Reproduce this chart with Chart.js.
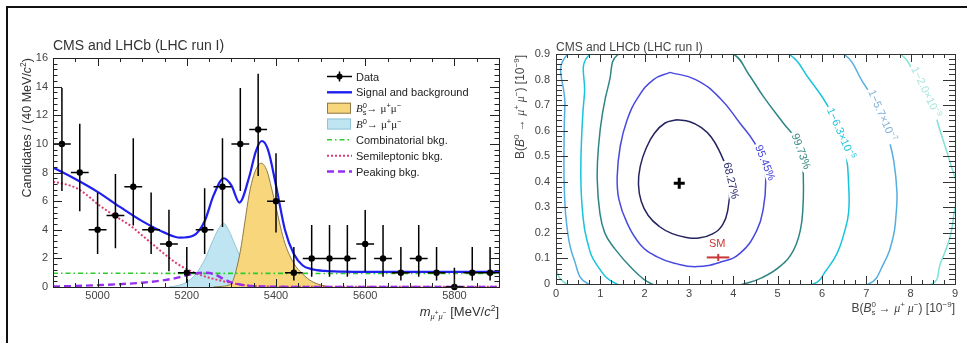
<!DOCTYPE html>
<html><head><meta charset="utf-8">
<script src="https://cdn.jsdelivr.net/npm/chart.js@4.4.1/dist/chart.umd.min.js"></script>
<style>
html,body{margin:0;padding:0;background:#fff;}
body{width:967px;height:343px;overflow:hidden;position:relative;}
#frame{position:absolute;left:6px;top:6px;width:990px;height:370px;border-left:2px solid #111;border-top:2px solid #111;}
canvas{position:absolute;top:0;}
#c1{left:0;} #c2{left:505px;}
</style></head><body>
<div id="frame"></div>
<canvas id="c1" width="510" height="343"></canvas>
<canvas id="c2" width="462" height="343"></canvas>
<script>
// ================= DATA (left panel) =================
const binCenters = [4920,4960,5000,5040,5080,5120,5160,5200,5240,5280,5320,5360,5400,5440,5480,5520,5560,5600,5640,5680,5720,5760,5800,5840,5880];
const candidates = [10,8,4,5,7,4,3,1,4,7,10,11,6,1,2,2,2,3,2,1,2,1,0,1,1];
const candLow  = [6.7,5.3,2.3,2.7,4.3,2.3,1.1,0.3,2.3,4.2,6.7,7.75,3.8,0.45,0.72,0.72,0.72,1.07,0.72,0.45,0.72,0.45,0,0.45,0.45];
const candHigh = [13.9,11.4,6.6,7.9,10.4,6.6,5.4,2.8,6.9,10.4,13.9,14.9,9.35,2.8,4.33,4.33,4.33,5.38,4.33,2.8,4.33,2.8,1.35,2.8,2.8];
const binHalfWidth = 20;

const totalMass = [4900,4950,5000,5050,5100,5150,5185,5215,5240,5260,5283,5300,5318,5340,5355,5368,5382,5400,5420,5440,5460,5480,5510,5550,5600,5700,5800,5900];
const totalFit  = [8.35,7.55,6.65,5.6,4.6,3.8,3.45,3.6,4.6,6.4,7.6,7.1,5.9,7.7,9.5,10.2,9.6,7.1,4.0,2.3,1.5,1.25,1.12,1.07,1.05,1.05,1.05,1.05];

const bsMass = [5260,5280,5300,5310,5320,5330,5340,5350,5360,5367,5380,5390,5400,5410,5420,5440,5460,5480,5500,5520];
const bsFit  = [0,0.05,0.25,1.1,2.5,4.5,6.5,7.8,8.5,8.65,8.1,6.9,5.6,4.2,3.05,1.65,0.9,0.4,0.15,0];

const bdMass = [5160,5180,5200,5220,5240,5255,5270,5282,5295,5310,5325,5340,5360,5380,5400,5420];
const bdFit  = [0,0.1,0.35,0.9,1.9,3.0,4.0,4.45,3.9,2.8,1.8,1.0,0.45,0.15,0.05,0];

const combMass = [4900,5900];
const combFit  = [0.96,0.94];

const semiMass = [4900,4925,4950,4975,5000,5025,5050,5075,5100,5125,5150,5175,5200,5225,5250,5275,5300,5325,5350,5400,5500,5900];
const semiFit  = [7.35,7.2,6.95,6.45,5.8,5.25,4.75,4.25,3.6,2.95,2.3,1.7,1.25,0.9,0.65,0.45,0.28,0.15,0.07,0.02,0.01,0.01];

const peakMass = [4900,4950,5000,5050,5100,5150,5175,5200,5225,5245,5265,5280,5300,5325,5350,5400,5450,5900];
const peakFit  = [0.03,0.07,0.13,0.2,0.3,0.48,0.62,0.82,0.97,1.0,0.85,0.6,0.32,0.14,0.06,0.02,0,0];

const massTicks = [5000,5200,5400,5600,5800];
const massTickLabels = ['5000','5200','5400','5600','5800'];
const countTicks = [0,2,4,6,8,10,12,14,16];
const countTickLabels = ['0','2','4','6','8','10','12','14','16'];

// ================= DATA (right panel) =================
const bsBRTicks = [0,1,2,3,4,5,6,7,8,9];
const bsBRTickLabels = ['0','1','2','3','4','5','6','7','8','9'];
const bdBRTicks = [0,0.1,0.2,0.3,0.4,0.5,0.6,0.7,0.8,0.9];
const bdBRTickLabels = ['0','0.1','0.2','0.3','0.4','0.5','0.6','0.7','0.8','0.9'];

const bestFitBs = [2.78];
const bestFitBd = [0.394];
const smBs = [3.66];
const smBd = [0.104];
const smBsLow = [3.40];
const smBsHigh = [3.91];

const contour68 = [[2.72,0.643],[3.02,0.635],[3.28,0.612],[3.5,0.575],[3.7,0.515],[3.85,0.45],[3.92,0.38],[3.88,0.295],[3.76,0.232],[3.52,0.195],[3.22,0.18],[2.95,0.182],[2.62,0.197],[2.33,0.225],[2.08,0.268],[1.92,0.325],[1.86,0.39],[1.9,0.46],[2.03,0.53],[2.22,0.59],[2.46,0.63],[2.72,0.643]];
const contour95 = [[2.57,0.828],[3.15,0.8],[3.7,0.727],[4.15,0.629],[4.45,0.56],[4.68,0.48],[4.73,0.4],[4.68,0.3],[4.53,0.21],[4.15,0.12],[3.7,0.085],[3.18,0.068],[2.7,0.08],[2.27,0.107],[1.9,0.155],[1.6,0.24],[1.42,0.33],[1.38,0.42],[1.45,0.54],[1.6,0.64],[1.85,0.73],[2.2,0.8],[2.57,0.828]];
const contour997 = [[2.7,1.0],[1.41,0.9],[1.2,0.79],[1.05,0.67],[0.96,0.54],[0.93,0.41],[0.99,0.277],[1.1,0.2],[1.29,0.146],[1.72,0.06],[2.16,0.0],[3.2,-0.05],[4.23,0.0],[4.65,0.025],[5.06,0.07],[5.35,0.13],[5.51,0.21],[5.57,0.3],[5.58,0.4],[5.55,0.49],[5.44,0.56],[5.13,0.629],[4.68,0.733],[4.35,0.82],[4.0,0.9],[2.7,1.0]];
const contour4s = [[3.0,1.12],[0.77,0.9],[0.64,0.74],[0.58,0.58],[0.56,0.42],[0.6,0.28],[0.7,0.17],[0.92,0.075],[1.37,0.0],[3.5,-0.12],[5.81,0.0],[6.1,0.055],[6.34,0.12],[6.5,0.2],[6.6,0.28],[6.6,0.39],[6.55,0.5],[6.42,0.59],[6.12,0.7],[5.72,0.8],[5.25,0.9],[3.0,1.12]];
const contour5s = [[3.4,1.25],[0.27,0.9],[0.2,0.7],[0.18,0.52],[0.19,0.36],[0.25,0.22],[0.4,0.1],[0.73,0.0],[3.9,-0.2],[7.05,0.0],[7.39,0.08],[7.6,0.18],[7.67,0.27],[7.69,0.36],[7.62,0.48],[7.5,0.57],[7.3,0.68],[6.92,0.79],[6.49,0.9],[3.4,1.25]];
const contour6s = [[4.0,1.35],[-0.35,0.9],[-0.45,0.55],[-0.3,0.28],[-0.05,0.1],[0.24,0.0],[4.4,-0.3],[8.48,0.0],[8.67,0.08],[8.89,0.185],[8.98,0.28],[9.05,0.37],[8.9,0.47],[8.7,0.58],[8.45,0.71],[8.14,0.8],[7.77,0.9],[4.0,1.35]];

// ================= helpers =================
const SANS = "'Liberation Sans', Arial, Helvetica, sans-serif";
const SERIF = "'Liberation Serif', 'Times New Roman', serif";
function pts(xs, ys) { return xs.map((x, i) => ({x: x, y: ys[i]})); }
function pairPts(arr) { return arr.map(p => ({x: p[0], y: p[1]})); }
function P(t, s, o) { return Object.assign({t: t, s: s}, o || {}); }
function drawRich(ctx, parts, x, y, align) {
  let cx = 0, maxX = 0, prevStart = 0;
  const lay = [];
  for (const p of parts) {
    const f = (p.it ? 'italic ' : '') + p.s + 'px ' + (p.serif ? SERIF : SANS);
    ctx.font = f;
    const w = ctx.measureText(p.t).width;
    if (p.back) cx = prevStart;
    lay.push({p: p, x: cx, f: f});
    prevStart = cx;
    cx += w;
    if (cx > maxX) maxX = cx;
  }
  const x0 = align === 'right' ? x - maxX : (align === 'center' ? x - maxX / 2 : x);
  ctx.textAlign = 'left';
  ctx.textBaseline = 'alphabetic';
  for (const l of lay) { ctx.font = l.f; ctx.fillText(l.p.t, x0 + l.x, y + (l.p.dy || 0)); }
  return maxX;
}
function frameTicks(ctx, a, xs, ys, c) {
  ctx.save();
  ctx.strokeStyle = c.color; ctx.lineWidth = 1;
  ctx.beginPath();
  for (let i = 0; i <= c.xN; i++) {
    const v = c.x0 + i * c.xStep;
    const L = (i % c.xEvery === c.xOff) ? c.xMaj : c.xMin;
    const px = Math.round(xs.getPixelForValue(v)) + 0.5;
    ctx.moveTo(px, a.bottom); ctx.lineTo(px, a.bottom - L);
    ctx.moveTo(px, a.top); ctx.lineTo(px, a.top + L);
  }
  for (let i = 0; i <= c.yN; i++) {
    const v = c.y0 + i * c.yStep;
    const L = (i % c.yEvery === 0) ? c.yMaj : c.yMin;
    const py = Math.round(ys.getPixelForValue(v)) + 0.5;
    ctx.moveTo(a.left, py); ctx.lineTo(a.left + L, py);
    ctx.moveTo(a.right, py); ctx.lineTo(a.right - L, py);
  }
  ctx.stroke();
  ctx.strokeRect(Math.round(a.left) + 0.5, Math.round(a.top) + 0.5, Math.round(a.right - a.left), Math.round(a.bottom - a.top));
  ctx.restore();
}

const COL = {
  total: '#1f1fef', bsFill: '#f7d67c', bsLine: '#8c7a4a', bdFill: '#bfe5f2', bdLine: '#93c4d6',
  comb: '#2ccc2c', semi: '#dc3d6e', peak: '#9630ee'
};

// ================= LEFT CHART =================
const leftPlugin = {
  id: 'leftDecor',
  afterDatasetsDraw(chart) {
    const ctx = chart.ctx, x = chart.scales.x, y = chart.scales.y;
    ctx.save();
    ctx.strokeStyle = '#000'; ctx.lineWidth = 1.5;
    ctx.beginPath();
    binCenters.forEach((m, i) => {
      const px = x.getPixelForValue(m);
      const py = y.getPixelForValue(candidates[i]);
      ctx.moveTo(x.getPixelForValue(m - binHalfWidth), py);
      ctx.lineTo(x.getPixelForValue(m + binHalfWidth), py);
      ctx.moveTo(px, y.getPixelForValue(candLow[i]));
      ctx.lineTo(px, y.getPixelForValue(candHigh[i]));
    });
    ctx.stroke();
    ctx.restore();
  },
  afterDraw(chart) {
    const ctx = chart.ctx, a = chart.chartArea, x = chart.scales.x, y = chart.scales.y;
    frameTicks(ctx, a, x, y, {color: '#222', x0: 4900, xStep: 50, xN: 20, xEvery: 4, xOff: 2, xMaj: 8, xMin: 4,
      y0: 0, yStep: 0.4, yN: 40, yEvery: 5, yMaj: 9, yMin: 4.5});
    ctx.save();
    ctx.fillStyle = '#333';
    // title
    drawRich(ctx, [P('CMS and LHCb (LHC run I)', 14)], 53, 50, 'left');
    // x title
    drawRich(ctx, [P('m', 13, {it: true}), P('μ', 8.5, {dy: 3, it: true, serif: true}), P('+', 6.5, {dy: -1}),
      P('μ', 8.5, {dy: 3, it: true, serif: true}), P('−', 6.5, {dy: -1}), P(' [MeV/', 13), P('c', 13, {it: true}),
      P('2', 8.5, {dy: -5}), P(']', 13)], 499, 316, 'right');
    // y title
    ctx.save();
    ctx.translate(31, 58); ctx.rotate(-Math.PI / 2);
    drawRich(ctx, [P('Candidates / (40 MeV/', 12.5), P('c', 12.5, {it: true}), P('2', 8.5, {dy: -5}), P(')', 12.5)], 0, 0, 'right');
    ctx.restore();
    // legend
    const ds = chart.data.datasets;
    const rowY = [76.5, 92.3, 108.2, 124.0, 139.8, 155.7, 171.5];
    const lx0 = 327, lx1 = 352, tx = 356;
    // Data
    ctx.strokeStyle = '#000'; ctx.lineWidth = 1.5;
    ctx.beginPath(); ctx.moveTo(lx0, rowY[0]); ctx.lineTo(lx1, rowY[0]);
    ctx.moveTo(339.5, rowY[0] - 5); ctx.lineTo(339.5, rowY[0] + 5); ctx.stroke();
    ctx.fillStyle = '#000'; ctx.beginPath(); ctx.arc(339.5, rowY[0], 3, 0, Math.PI * 2); ctx.fill();
    // Signal and background
    ctx.strokeStyle = COL.total; ctx.lineWidth = 2.4;
    ctx.beginPath(); ctx.moveTo(lx0, rowY[1]); ctx.lineTo(lx1, rowY[1]); ctx.stroke();
    // Bs box
    ctx.fillStyle = COL.bsFill; ctx.fillRect(lx0, rowY[2] - 5.5, 24, 11);
    ctx.strokeStyle = COL.bsLine; ctx.lineWidth = 1; ctx.strokeRect(lx0 + 0.5, rowY[2] - 5, 23, 10);
    // B0 box
    ctx.fillStyle = COL.bdFill; ctx.fillRect(lx0, rowY[3] - 5.5, 24, 11);
    ctx.strokeStyle = COL.bdLine; ctx.strokeRect(lx0 + 0.5, rowY[3] - 5, 23, 10);
    // comb
    ctx.lineWidth = 1.6; ctx.strokeStyle = COL.comb; ctx.setLineDash([5, 3, 1.5, 3]);
    ctx.beginPath(); ctx.moveTo(lx0, rowY[4]); ctx.lineTo(lx1, rowY[4]); ctx.stroke();
    ctx.lineWidth = 2; ctx.strokeStyle = COL.semi; ctx.setLineDash([2, 2]);
    ctx.beginPath(); ctx.moveTo(lx0, rowY[5]); ctx.lineTo(lx1, rowY[5]); ctx.stroke();
    ctx.lineWidth = 2.4; ctx.strokeStyle = COL.peak; ctx.setLineDash([7, 4]);
    ctx.beginPath(); ctx.moveTo(lx0, rowY[6]); ctx.lineTo(lx1, rowY[6]); ctx.stroke();
    ctx.setLineDash([]);
    // legend texts
    ctx.fillStyle = '#222';
    drawRich(ctx, [P(ds[0].label, 11)], tx, rowY[0] + 4, 'left');
    drawRich(ctx, [P(ds[1].label, 11)], tx, rowY[1] + 4, 'left');
    drawRich(ctx, [P('B', 11, {it: true, serif: true}), P('0', 7.5, {dy: -4}), P('s', 7.5, {dy: 3, back: true}), P('→ ', 11),
      P('μ', 11, {serif: true}), P('+', 7.5, {dy: -4}), P('μ', 11, {serif: true}), P('−', 7.5, {dy: -4})], tx, rowY[2] + 4, 'left');
    drawRich(ctx, [P('B', 11, {it: true, serif: true}), P('0', 7.5, {dy: -4}), P('→ ', 11),
      P('μ', 11, {serif: true}), P('+', 7.5, {dy: -4}), P('μ', 11, {serif: true}), P('−', 7.5, {dy: -4})], tx, rowY[3] + 4, 'left');
    drawRich(ctx, [P(ds[4].label, 11)], tx, rowY[4] + 4, 'left');
    drawRich(ctx, [P(ds[3].label, 11)], tx, rowY[5] + 4, 'left');
    drawRich(ctx, [P(ds[2].label, 11)], tx, rowY[6] + 4, 'left');
    ctx.restore();
  }
};

new Chart(document.getElementById('c1'), {
  type: 'line',
  data: {datasets: [
    {label: 'Data', data: pts(binCenters, candidates), showLine: false, pointRadius: 3.2, pointBackgroundColor: '#000', pointBorderColor: '#000', pointBorderWidth: 0, order: 0, clip: false},
    {label: 'Signal and background', data: pts(totalMass, totalFit), borderColor: COL.total, borderWidth: 2.2, pointRadius: 0, cubicInterpolationMode: 'monotone', order: 1},
    {label: 'Peaking bkg.', data: pts(peakMass, peakFit), borderColor: COL.peak, borderWidth: 2.4, borderDash: [7, 4], pointRadius: 0, cubicInterpolationMode: 'monotone', order: 2},
    {label: 'Semileptonic bkg.', data: pts(semiMass, semiFit), borderColor: COL.semi, borderWidth: 2, borderDash: [2, 2], pointRadius: 0, cubicInterpolationMode: 'monotone', order: 3},
    {label: 'Combinatorial bkg.', data: pts(combMass, combFit), borderColor: COL.comb, borderWidth: 1.6, borderDash: [5, 3, 1.5, 3], pointRadius: 0, order: 4},
    {label: 'Bs', data: pts(bsMass, bsFit), borderColor: COL.bsLine, borderWidth: 1, backgroundColor: COL.bsFill, fill: 'origin', pointRadius: 0, cubicInterpolationMode: 'monotone', order: 5},
    {label: 'B0', data: pts(bdMass, bdFit), borderColor: COL.bdLine, borderWidth: 1, backgroundColor: COL.bdFill, fill: 'origin', pointRadius: 0, cubicInterpolationMode: 'monotone', order: 6}
  ]},
  options: {
    responsive: false, animation: false, devicePixelRatio: 1, events: [],
    layout: {padding: {left: 0, right: 11, top: 58, bottom: 26}},
    plugins: {legend: {display: false}, tooltip: {enabled: false}, title: {display: false}},
    elements: {point: {radius: 0}, line: {capBezierPoints: false}},
    scales: {
      x: {type: 'linear', min: 4900, max: 5900,
        grid: {display: false, drawTicks: false, tickLength: 0}, border: {display: false},
        afterBuildTicks: s => { s.ticks = massTicks.map(v => ({value: v})); },
        afterFit: s => { s.height = 30; },
        ticks: {color: '#444', padding: 2, maxRotation: 0, autoSkip: false, font: {family: SANS, size: 11}, callback: (v, i) => massTickLabels[i]}},
      y: {type: 'linear', min: 0, max: 16,
        grid: {display: false, drawTicks: false, tickLength: 0}, border: {display: false},
        afterBuildTicks: s => { s.ticks = countTicks.map(v => ({value: v})); },
        afterFit: s => { s.width = 53; },
        ticks: {color: '#444', padding: 5, autoSkip: false, font: {family: SANS, size: 11}, callback: (v, i) => countTickLabels[i]}}
    }
  },
  plugins: [leftPlugin]
});

// ================= RIGHT CHART =================
const contourLabels = [
  {parts: [P('68.27%', 11)], x: 3.96, y: 0.405, rot: 77, color: '#2a2a6e'},
  {parts: [P('95.45%', 11)], x: 4.73, y: 0.475, rot: 68, color: '#4848dc'},
  {parts: [P('99.73%', 11)], x: 5.54, y: 0.52, rot: 70, color: '#3a8888'},
  {parts: [P('1−6.3×10', 11), P('−5', 7.5, {dy: -4})], x: 6.44, y: 0.59, rot: 66, color: '#20c4dc'},
  {parts: [P('1−5.7×10', 11), P('−7', 7.5, {dy: -4})], x: 7.37, y: 0.66, rot: 66, color: '#7fb0d8'},
  {parts: [P('1−2.0×10', 11), P('−9', 7.5, {dy: -4})], x: 8.36, y: 0.752, rot: 64, color: '#a8e6dc'}
];

const rightPlugin = {
  id: 'rightDecor',
  afterDatasetsDraw(chart) {
    const ctx = chart.ctx, x = chart.scales.x, y = chart.scales.y;
    ctx.save();
    for (const lb of contourLabels) {
      const px = x.getPixelForValue(lb.x), py = y.getPixelForValue(lb.y);
      ctx.save();
      ctx.translate(px, py); ctx.rotate(lb.rot * Math.PI / 180);
      ctx.fillStyle = 'rgba(0,0,0,0)';
      const w = drawRich(ctx, lb.parts, -10000, 0, 'left');
      ctx.fillStyle = '#fff';
      ctx.fillRect(-w / 2 - 2, -7, w + 4, 13);
      ctx.fillStyle = lb.color;
      drawRich(ctx, lb.parts, 0, 4, 'center');
      ctx.restore();
    }
    // SM label
    ctx.fillStyle = '#c83737';
    drawRich(ctx, [P('SM', 11)], x.getPixelForValue(smBs[0]) - 1, y.getPixelForValue(smBd[0]) - 10, 'center');
    ctx.restore();
  },
  afterDraw(chart) {
    const ctx = chart.ctx, a = chart.chartArea, x = chart.scales.x, y = chart.scales.y;
    frameTicks(ctx, a, x, y, {color: '#333', x0: 0, xStep: 0.25, xN: 36, xEvery: 4, xOff: 0, xMaj: 8, xMin: 4,
      y0: 0, yStep: 0.02, yN: 45, yEvery: 5, yMaj: 12, yMin: 6});
    ctx.save();
    ctx.fillStyle = '#444';
    drawRich(ctx, [P('CMS and LHCb (LHC run I)', 12)], 51, 51, 'left');
    drawRich(ctx, [P('B(', 12), P('B', 12, {it: true}), P('0', 8, {dy: -5}), P('s', 8, {dy: 3, back: true}), P(' → ', 12),
      P('μ', 12, {it: true, serif: true}), P('+', 8, {dy: -5}), P(' μ', 12, {it: true, serif: true}), P('−', 8, {dy: -5}),
      P(') [10', 12), P('−9', 8, {dy: -5}), P(']', 12)], 450, 312, 'right');
    ctx.save();
    ctx.translate(19, 55); ctx.rotate(-Math.PI / 2);
    drawRich(ctx, [P('B(', 12), P('B', 12, {it: true}), P('0', 8, {dy: -5}), P(' → ', 12),
      P('μ', 12, {it: true, serif: true}), P('+', 8, {dy: -5}), P(' μ', 12, {it: true, serif: true}), P('−', 8, {dy: -5}),
      P(') [10', 12), P('−9', 8, {dy: -5}), P(']', 12)], 0, 0, 'right');
    ctx.restore();
    ctx.restore();
  }
};

function contourDS(label, arr, color, order) {
  return {label: label, data: pairPts(arr), borderColor: color, borderWidth: 1.5, pointRadius: 0, tension: 0.45, fill: false, order: order};
}

new Chart(document.getElementById('c2'), {
  type: 'line',
  data: {datasets: [
    {label: 'Best fit', data: pts(bestFitBs, bestFitBd), showLine: false, pointStyle: 'cross', pointRadius: 5.5, pointBorderWidth: 3, pointBorderColor: '#000', order: 0},
    {label: 'SM point', data: pts(smBs, smBd), showLine: false, pointStyle: 'line', rotation: 90, pointRadius: 3.5, pointBorderWidth: 2, pointBorderColor: '#c83737', order: 1},
    {label: 'SM range', data: [{x: smBsLow[0], y: smBd[0]}, {x: smBsHigh[0], y: smBd[0]}], borderColor: '#c83737', borderWidth: 2, pointRadius: 0, order: 1},
    contourDS('68.27%', contour68, '#25235f', 2),
    contourDS('95.45%', contour95, '#4848e0', 3),
    contourDS('99.73%', contour997, '#2f8585', 4),
    contourDS('1-6.3e-5', contour4s, '#18c4dc', 5),
    contourDS('1-5.7e-7', contour5s, '#55aee0', 6),
    contourDS('1-2.0e-9', contour6s, '#7fe2d4', 7)
  ]},
  options: {
    responsive: false, animation: false, devicePixelRatio: 1, events: [],
    layout: {padding: {left: 0, right: 12, top: 54, bottom: 29}},
    plugins: {legend: {display: false}, tooltip: {enabled: false}, title: {display: false}},
    elements: {point: {radius: 0}, line: {capBezierPoints: false}},
    scales: {
      x: {type: 'linear', min: 0, max: 9,
        grid: {display: false, drawTicks: false, tickLength: 0}, border: {display: false},
        afterBuildTicks: s => { s.ticks = bsBRTicks.map(v => ({value: v})); },
        afterFit: s => { s.height = 30; },
        ticks: {color: '#444', padding: 3, maxRotation: 0, autoSkip: false, font: {family: SANS, size: 11}, callback: (v, i) => bsBRTickLabels[i]}},
      y: {type: 'linear', min: 0, max: 0.9,
        grid: {display: false, drawTicks: false, tickLength: 0}, border: {display: false},
        afterBuildTicks: s => { s.ticks = bdBRTicks.map(v => ({value: v})); },
        afterFit: s => { s.width = 51; },
        ticks: {color: '#444', padding: 6, autoSkip: false, font: {family: SANS, size: 11}, callback: (v, i) => bdBRTickLabels[i]}}
    }
  },
  plugins: [rightPlugin]
});
</script>
</body></html>
